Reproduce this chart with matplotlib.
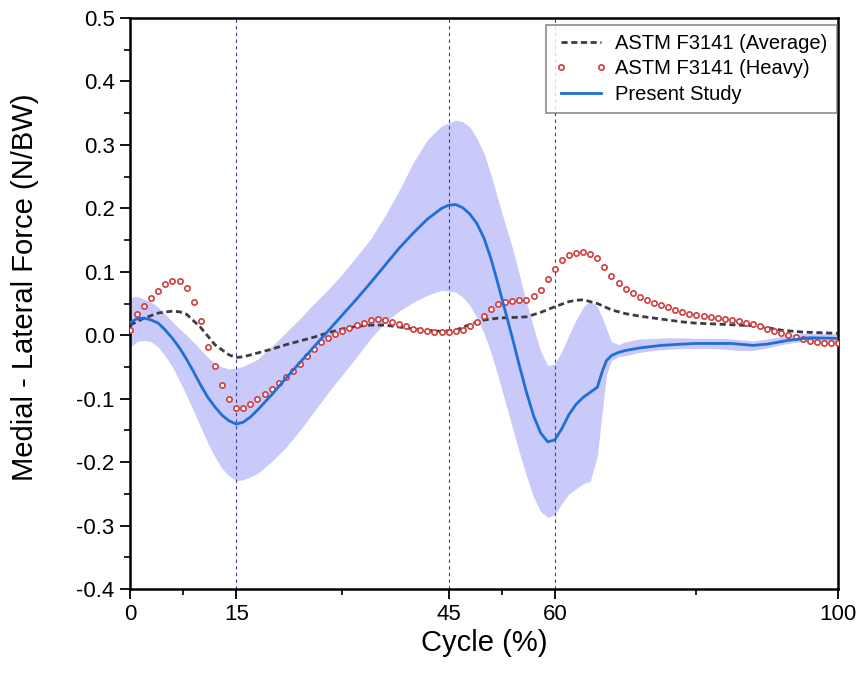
import matplotlib
matplotlib.use("Agg")
import matplotlib.pyplot as plt
from matplotlib.ticker import FixedLocator, MultipleLocator, FormatStrFormatter

plt.rcParams['font.family'] = ['Liberation Sans', 'DejaVu Sans']

# ---------------- data ----------------
x_ticks = [0, 15, 45, 60, 100]
x_minor = [7.5, 30, 52.5, 80]
phase_lines = [15, 45, 60]

avg_x = [0, 2, 4, 6, 7, 8, 10, 12, 14, 15, 16, 18, 20, 22, 24, 26, 28, 30, 32, 34,
         36, 38, 40, 42, 44, 46, 48, 50, 52, 54, 56, 58, 60, 62, 63, 64, 66, 68, 70,
         72, 74, 76, 78, 80, 84, 88, 90, 92, 95, 100]
avg_y = [0.016, 0.027, 0.035, 0.038, 0.037, 0.033, 0.012, -0.015, -0.031, -0.035,
         -0.034, -0.028, -0.022, -0.015, -0.009, -0.003, 0.004, 0.010, 0.014, 0.016,
         0.016, 0.013, 0.010, 0.008, 0.006, 0.008, 0.017, 0.024, 0.027, 0.028,
         0.029, 0.036, 0.045, 0.053, 0.055, 0.056, 0.050, 0.040, 0.034, 0.030,
         0.027, 0.024, 0.021, 0.019, 0.017, 0.015, 0.012, 0.008, 0.005, 0.003]

heavy_x = list(range(0, 101))
heavy_y = [0.008, 0.034, 0.046, 0.058, 0.070, 0.080, 0.086, 0.086, 0.074, 0.052,
           0.022, -0.019, -0.049, -0.079, -0.101, -0.114, -0.114, -0.109, -0.101, -0.093,
           -0.084, -0.075, -0.066, -0.056, -0.045, -0.033, -0.021, -0.011, -0.004, 0.002,
           0.007, 0.011, 0.016, 0.020, 0.024, 0.025, 0.024, 0.021, 0.018, 0.014,
           0.010, 0.008, 0.006, 0.005, 0.005, 0.005, 0.007, 0.009, 0.014, 0.021,
           0.031, 0.042, 0.049, 0.052, 0.054, 0.055, 0.056, 0.062, 0.072, 0.088,
           0.104, 0.118, 0.126, 0.130, 0.131, 0.128, 0.121, 0.108, 0.094, 0.083,
           0.073, 0.066, 0.060, 0.055, 0.051, 0.048, 0.044, 0.040, 0.036, 0.034,
           0.032, 0.030, 0.029, 0.027, 0.025, 0.024, 0.022, 0.020, 0.018, 0.014,
           0.010, 0.007, 0.003, 0.000, -0.003, -0.006, -0.009, -0.011, -0.012, -0.013,
           -0.013]

study_x = [0, 1, 2, 3, 4, 5, 6, 7, 8, 9, 10, 11, 12, 13, 14, 15, 16, 17, 18, 19, 20,
           22, 24, 26, 28, 30, 32, 34, 36, 38, 40, 42, 44, 45, 46, 47, 48, 49, 50, 51,
           52, 53, 54, 55, 56, 57, 58, 59, 60, 61, 62, 63, 64, 65, 66, 66.7, 67.3, 68,
           69, 70, 72, 75, 78, 80, 82, 85, 88, 90, 93, 96, 100]
study_y = [0.020, 0.026, 0.027, 0.024, 0.019, 0.008, -0.005, -0.020, -0.038, -0.058,
           -0.079, -0.098, -0.113, -0.126, -0.135, -0.140, -0.137, -0.129, -0.118, -0.106,
           -0.094, -0.068, -0.043, -0.018, 0.007, 0.032, 0.057, 0.083, 0.110, 0.137,
           0.161, 0.183, 0.200, 0.205, 0.206, 0.201, 0.191, 0.176, 0.153, 0.120,
           0.080, 0.038, -0.004, -0.048, -0.090, -0.127, -0.154, -0.168, -0.165, -0.147,
           -0.125, -0.109, -0.098, -0.090, -0.082, -0.057, -0.040, -0.032, -0.027, -0.024,
           -0.020, -0.016, -0.014, -0.013, -0.013, -0.013, -0.016, -0.014, -0.008, -0.004,
           -0.005]

band_x = [0, 1, 2, 3, 4, 5, 6, 7, 8, 9, 10, 11, 12, 13, 14, 15, 16, 18, 20, 22, 24,
          26, 28, 30, 32, 34, 36, 38, 40, 42, 44, 46, 47, 48, 49, 50, 51, 52, 53, 54,
          55, 56, 57, 58, 59, 60, 61, 62, 63, 64, 65, 66, 66.7, 67.3, 68, 69, 70, 72,
          74, 76, 78, 80, 82, 84, 86, 88, 90, 92, 94, 96, 98, 100]
band_upper = [0.060, 0.061, 0.057, 0.052, 0.044, 0.033, 0.021, 0.010, 0.000, -0.011,
              -0.023, -0.035, -0.044, -0.050, -0.053, -0.052, -0.049, -0.038, -0.018, 0.004,
              0.026, 0.050, 0.072, 0.097, 0.124, 0.152, 0.188, 0.228, 0.272, 0.308,
              0.330, 0.339, 0.337, 0.328, 0.310, 0.287, 0.252, 0.213, 0.175, 0.138,
              0.095, 0.052, 0.012, -0.025, -0.048, -0.045, -0.025, 0.000, 0.024, 0.044,
              0.055, 0.045, 0.028, 0.010, -0.010, -0.015, -0.010, -0.006, -0.005, -0.004,
              -0.004, -0.005, -0.005, -0.005, -0.007, -0.009, -0.006, -0.002, 0.002, 0.003,
              0.003, 0.002]
band_lower = [-0.019, -0.010, -0.008, -0.010, -0.019, -0.033, -0.050, -0.072, -0.095, -0.120,
              -0.145, -0.170, -0.192, -0.210, -0.222, -0.229, -0.228, -0.218, -0.199, -0.177,
              -0.150, -0.120, -0.090, -0.062, -0.034, -0.005, 0.020, 0.038, 0.052, 0.063,
              0.071, 0.068, 0.060, 0.047, 0.028, 0.003, -0.028, -0.065, -0.105, -0.145,
              -0.185, -0.222, -0.255, -0.278, -0.287, -0.283, -0.265, -0.250, -0.242, -0.234,
              -0.230, -0.190, -0.120, -0.062, -0.040, -0.034, -0.032, -0.027, -0.024, -0.022,
              -0.021, -0.021, -0.021, -0.022, -0.024, -0.024, -0.020, -0.015, -0.011, -0.010,
              -0.010, -0.011]

# ---------------- figure ----------------
fig = plt.figure(figsize=(8.62, 6.8), dpi=100)
ax = fig.add_axes([0.1508, 0.1338, 0.8214, 0.8397])

ax.fill_between(band_x, band_lower, band_upper, color='#c9c9fa', linewidth=0, zorder=1)

for xv in phase_lines:
    ax.axvline(xv, color='#3a3aa0', linestyle=(0, (3, 3)), linewidth=0.8, zorder=2)

ax.plot(avg_x, avg_y, color='#3c3c44', linestyle=(0, (2.2, 1.3)), linewidth=2.0,
        label='ASTM F3141 (Average)', zorder=3)
ax.plot(heavy_x, heavy_y, linestyle='none', marker='o', markersize=3.8,
        markerfacecolor='white', markeredgecolor='#d23c3c', markeredgewidth=1.2,
        label='ASTM F3141 (Heavy)', zorder=4)
ax.plot(study_x, study_y, color='#1f6fd6', linewidth=2.0, label='Present Study', zorder=5)

ax.set_xlim(0, 100)
ax.set_ylim(-0.4, 0.5)
ax.xaxis.set_major_locator(FixedLocator(x_ticks))
ax.xaxis.set_minor_locator(FixedLocator(x_minor))
ax.yaxis.set_major_locator(MultipleLocator(0.1))
ax.yaxis.set_minor_locator(MultipleLocator(0.05))
ax.yaxis.set_major_formatter(FormatStrFormatter('%.1f'))

ax.tick_params(which='major', direction='out', length=7, width=1.3, labelsize=16,
               pad=4, colors='black')
ax.tick_params(which='minor', direction='out', length=4, width=1.2)
for s in ax.spines.values():
    s.set_linewidth(1.8)
    s.set_color('black')

ax.set_xlabel('Cycle (%)', fontsize=21, labelpad=3)
ax.set_ylabel('Medial - Lateral Force (N/BW)', fontsize=21)
ax.yaxis.set_label_coords(-0.128, 0.528)

leg = ax.legend(loc='upper right', bbox_to_anchor=(0.998, 0.988), borderaxespad=0.0,
                fontsize=14.5, frameon=True, fancybox=False, edgecolor='#707070',
                handlelength=2.6, handletextpad=0.4, labelspacing=0.32,
                borderpad=0.45, numpoints=2)
leg.get_frame().set_linewidth(1.2)

fig.savefig('out.png', dpi=100)
